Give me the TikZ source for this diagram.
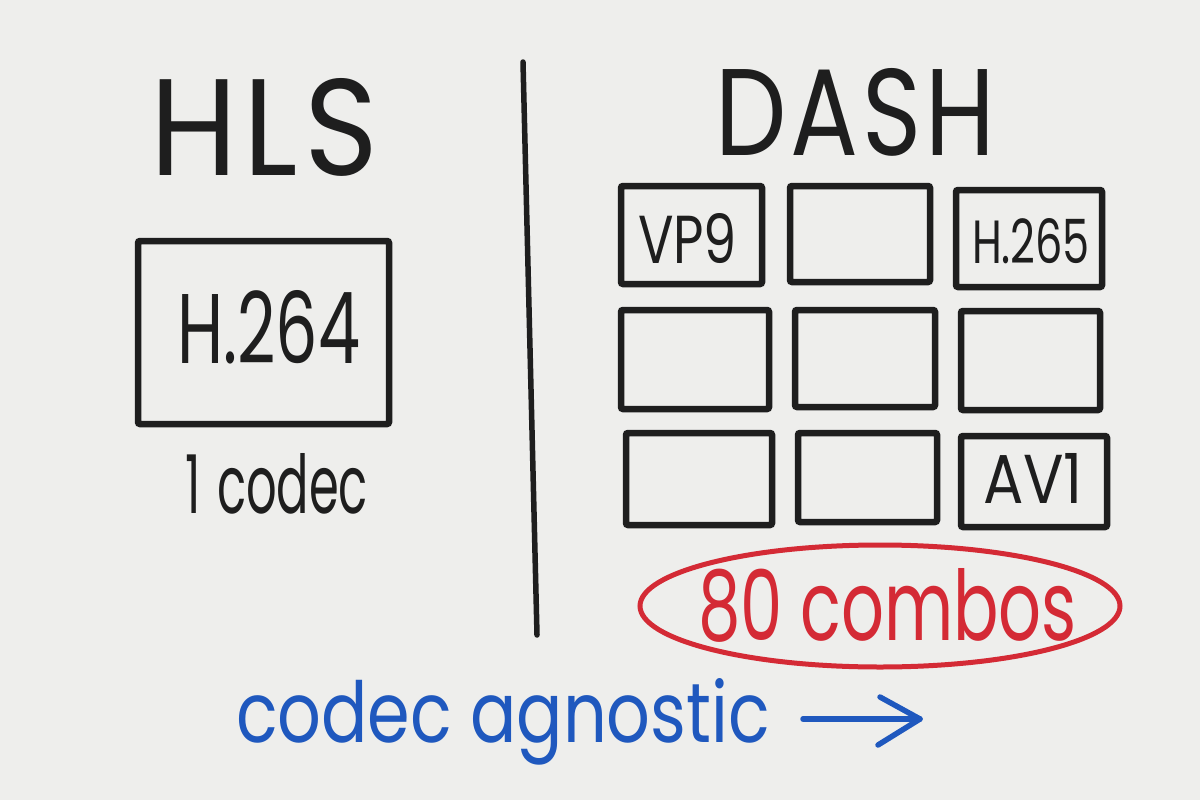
\documentclass[tikz,border=0pt]{standalone}
\usepackage{fontspec}
\setmainfont{Poppins}
\usetikzlibrary{shapes.geometric}
\definecolor{bg}{RGB}{238,238,236}
\definecolor{ink}{RGB}{30,30,30}
\definecolor{redink}{RGB}{212,42,53}
\definecolor{blueink}{RGB}{31,88,190}
\tikzset{
  cbox/.style={draw=ink, line width=6.5pt, rounded corners=2pt, inner sep=0pt, outer sep=0pt},
  lbl/.style={inner sep=0pt, outer sep=0pt, anchor=base west, text=ink},
}
\newcommand{\fitxt}[3]{\resizebox{#1pt}{#2pt}{#3}}
\begin{document}
\begin{tikzpicture}[x=1pt,y=-1pt]
\fill[bg] (0,0) rectangle (1200,800);
\useasboundingbox (0,0) rectangle (1200,800);
% titles
\node[lbl] (hls) at (150,175) {\fitxt{228}{97}{H\kern0.05em L\kern0.05em S}};
\node[lbl] (dash) at (715,155) {\fitxt{280}{87}{D\kern0.04em A\kern0.04em S\kern0.04em H}};
% divider
\coordinate (dtop) at (523,62);
\coordinate (dbot) at (537,635);
\draw[ink, line width=5.5pt, line cap=round] (dtop) -- (dbot);
% HLS box
\node[cbox, minimum width=251pt, minimum height=183pt] (hbox) at (263.5,332.5) {};
\node[lbl] (h264) at (177,363) {\fitxt{183}{73}{H.264}};
\node[lbl] (onecodec) at (185,513) {\fitxt{183}{60}{1\hspace{0.35em}codec}};
% DASH grid
\node[cbox, minimum width=141pt, minimum height=98pt] (b11) at (691.5,235) {};
\node[cbox, minimum width=140pt, minimum height=96pt] (b12) at (860,234) {};
\node[cbox, minimum width=146pt, minimum height=97pt] (b13) at (1029,238.5) {};
\node[cbox, minimum width=148pt, minimum height=99pt] (b21) at (695,359.5) {};
\node[cbox, minimum width=140pt, minimum height=97pt] (b22) at (865,358.5) {};
\node[cbox, minimum width=139pt, minimum height=99pt] (b23) at (1030.5,360.5) {};
\node[cbox, minimum width=146pt, minimum height=92pt] (b31) at (699,479) {};
\node[cbox, minimum width=139pt, minimum height=89pt] (b32) at (867.5,477.5) {};
\node[cbox, minimum width=146pt, minimum height=91pt] (b33) at (1034,481.5) {};
\node[lbl] (vp9) at (638,263) {\fitxt{99}{50}{VP9}};
\node[lbl] (h265) at (972,263) {\fitxt{118}{45}{H.265}};
\node[lbl] (av1) at (983,503) {\fitxt{100}{50}{AV1}};
% combos
\node[ellipse, draw=redink, line width=5pt, minimum width=480pt, minimum height=122pt, inner sep=0pt] (ell) at (880,606) {};
\node[lbl, text=redink] (combos) at (698,640) {\fitxt{379}{72}{80 combos}};
% codec agnostic
\node[lbl, text=blueink] (agn) at (236,742) {\fitxt{534}{64}{codec agnostic}};
\coordinate (a1) at (803,719);
\coordinate (a2) at (920,719);
\draw[blueink, line width=5.5pt, line cap=round, line join=round] (a1) -- (a2);
\draw[blueink, line width=5.5pt, line cap=round, line join=round] ([shift={(-40,-22)}]a2) -- (a2) -- ([shift={(-42,26)}]a2);
\end{tikzpicture}
\end{document}
